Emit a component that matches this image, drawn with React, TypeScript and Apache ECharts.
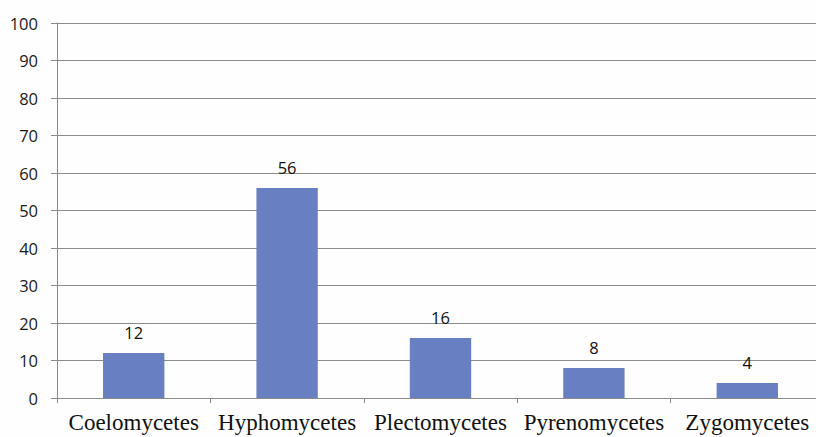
import React, { useEffect, useRef } from "react";
import * as echarts from "echarts";

const categories = ["Coelomycetes", "Hyphomycetes", "Plectomycetes", "Pyrenomycetes", "Zygomycetes"];
const values = [12, 56, 16, 8, 4];

export default function App() {
  const ref = useRef<HTMLDivElement>(null);
  useEffect(() => {
    if (!ref.current) return;
    const chart = echarts.init(ref.current, null, { renderer: "svg" });
    chart.setOption({
      animation: false,
      backgroundColor: "#fefefe",
      grid: { left: 57, right: 0, top: 23, bottom: 39, containLabel: false },
      xAxis: {
        type: "category",
        data: categories,
        axisLine: { show: true, lineStyle: { color: "#8c8c8c", width: 1 } },
        axisTick: { show: true, length: 5, lineStyle: { color: "#8c8c8c" } },
        axisLabel: {
          color: "#111",
          fontFamily: "Liberation Serif",
          fontSize: 23,
          margin: 13,
          interval: 0,
        },
      },
      yAxis: {
        type: "value",
        min: 0,
        max: 100,
        interval: 10,
        axisLine: { show: true, lineStyle: { color: "#8c8c8c", width: 1 } },
        axisTick: { show: true, length: 6, lineStyle: { color: "#8c8c8c" } },
        axisLabel: { color: "#1a1a1a", fontFamily: "Open Sans", fontSize: 16.5, margin: 19 },
        splitLine: { show: true, lineStyle: { color: "#8c8c8c", width: 1 } },
      },
      series: [
        {
          type: "bar",
          data: values,
          barWidth: "40%",
          itemStyle: { color: "#6880c2" },
          label: {
            show: true,
            position: "top",
            distance: 12,
            color: "#111",
            fontFamily: "Open Sans",
            fontSize: 16.5,
          },
        },
      ],
    });
    return () => chart.dispose();
  }, []);
  return (
    <div style={{ position: "absolute", left: 0, top: 0, width: 816, height: 437, overflow: "hidden" }}>
      <div ref={ref} style={{ width: 824, height: 437 }} />
    </div>
  );
}
